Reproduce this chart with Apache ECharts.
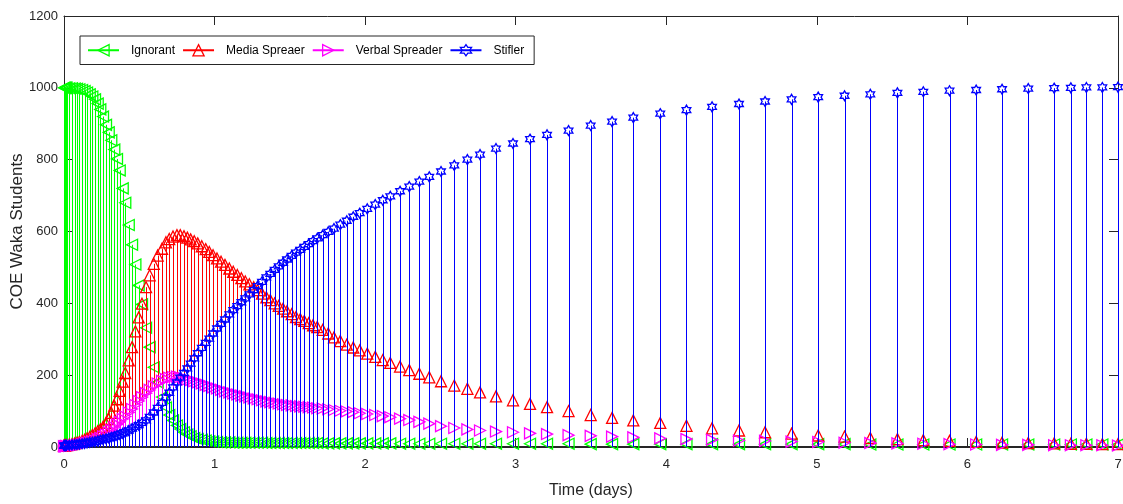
<!DOCTYPE html>
<html>
<head>
<meta charset="utf-8">
<title>COE Waka Students rumour model</title>
<script src="https://cdn.jsdelivr.net/npm/echarts@6/dist/echarts.min.js"></script>
<style>
  html, body { margin: 0; padding: 0; background: #fff; }
  #chart { width: 1123px; height: 504px; }
</style>
</head>
<body>
<div id="chart"></div>
<script>
// time steps of the solver output (days)
const timeDays = [0, 0.004, 0.008, 0.013, 0.017, 0.035, 0.053, 0.071, 0.086, 0.102,
  0.120, 0.137, 0.153, 0.171, 0.188, 0.206, 0.224, 0.241, 0.259, 0.279,
  0.297, 0.314, 0.334, 0.352, 0.370, 0.390, 0.407, 0.430, 0.452, 0.474,
  0.496, 0.518, 0.545, 0.569, 0.596, 0.622, 0.651, 0.677, 0.699, 0.724,
  0.750, 0.772, 0.797, 0.819, 0.841, 0.865, 0.888, 0.915, 0.941, 0.965,
  0.990, 1.016, 1.043, 1.069, 1.098, 1.124, 1.151, 1.178, 1.204, 1.231,
  1.260, 1.286, 1.315, 1.344, 1.370, 1.399, 1.426, 1.455, 1.481, 1.512,
  1.541, 1.569, 1.596, 1.625, 1.654, 1.682, 1.718, 1.755, 1.793, 1.835,
  1.878, 1.921, 1.964, 2.014, 2.067, 2.117, 2.167, 2.232, 2.293, 2.360,
  2.426, 2.504, 2.592, 2.679, 2.763, 2.869, 2.982, 3.095, 3.208, 3.351,
  3.498, 3.640, 3.781, 3.960, 4.134, 4.304, 4.483, 4.656, 4.832, 5.009,
  5.184, 5.355, 5.535, 5.707, 5.881, 6.058, 6.230, 6.404, 6.576, 6.687,
  6.790, 6.896, 7.000];

const ignorant = [1000, 1000, 1000, 1000, 1000, 999, 999, 998, 997, 996,
  994, 991, 987, 982, 976, 968, 956, 940, 920, 897,
  876, 854, 828, 802, 770, 720, 680, 618, 563, 508,
  450, 397, 332, 278, 222, 180, 139, 110, 89, 74,
  60, 50, 41, 35, 30, 25, 22, 20, 18, 16,
  15, 14, 13, 13, 13, 12, 12, 12, 12, 12,
  12, 12, 12, 11, 11, 11, 11, 11, 11, 11,
  11, 11, 11, 11, 11, 11, 10, 10, 10, 10,
  10, 10, 10, 10, 10, 10, 10, 9, 9, 9,
  9, 9, 9, 9, 9, 9, 9, 9, 9, 9,
  8, 8, 8, 8, 8, 8, 8, 8, 8, 8,
  8, 7, 7, 7, 7, 7, 7, 7, 7, 7,
  7, 7, 7];

const mediaSpreader = [4, 4, 5, 5, 5, 7, 8, 10, 12, 14,
  17, 20, 24, 28, 33, 38, 44, 49, 56, 67,
  78, 95, 115, 133, 156, 182, 206, 241, 278, 322,
  361, 399, 445, 478, 510, 533, 552, 570, 579, 586,
  590, 590, 587, 583, 578, 573, 567, 559, 551, 543,
  534, 525, 516, 507, 497, 488, 479, 470, 461, 453,
  445, 437, 427, 417, 409, 400, 393, 385, 378, 370,
  362, 356, 351, 345, 339, 334, 326, 316, 305, 295,
  285, 277, 269, 260, 251, 242, 234, 224, 214, 204,
  194, 183, 171, 162, 152, 141, 130, 120, 111, 100,
  89, 81, 74, 67, 59, 52, 46, 41, 37, 32,
  29, 25, 22, 19, 17, 14, 12, 11, 10, 9,
  9, 8, 8];

const verbalSpreader = [2, 2, 2, 2, 3, 3, 4, 4, 5, 6,
  8, 10, 12, 14, 16, 18, 22, 25, 30, 35,
  41, 47, 55, 63, 70, 78, 85, 96, 106, 117,
  128, 139, 150, 159, 169, 177, 184, 189, 193, 195,
  196, 194, 191, 188, 186, 183, 180, 177, 173, 170,
  166, 163, 159, 155, 152, 149, 146, 143, 141, 138,
  135, 133, 130, 127, 125, 123, 121, 119, 117, 116,
  114, 113, 112, 111, 110, 108, 107, 105, 103, 101,
  99, 97, 94, 92, 89, 86, 83, 79, 75, 70,
  65, 58, 53, 49, 46, 43, 41, 38, 36, 33,
  31, 29, 27, 24, 22, 20, 18, 17, 15, 14,
  12, 11, 10, 9, 8, 7, 6, 6, 5, 5,
  5, 5, 4];

const stifler = [4, 4, 4, 4, 5, 5, 6, 7, 7, 8,
  9, 10, 11, 13, 14, 15, 17, 19, 21, 23,
  25, 27, 29, 32, 35, 38, 41, 46, 51, 56,
  61, 67, 74, 84, 96, 109, 123, 138, 151, 166,
  180, 193, 206, 219, 232, 247, 261, 276, 290, 302,
  316, 330, 343, 355, 369, 381, 392, 403, 414, 425,
  437, 448, 460, 472, 482, 493, 503, 513, 522, 532,
  541, 549, 557, 565, 573, 581, 590, 599, 608, 619,
  630, 641, 651, 663, 675, 687, 698, 712, 725, 739,
  752, 767, 784, 800, 814, 831, 845, 857, 869, 881,
  895, 906, 917, 928, 938, 947, 955, 962, 968, 974,
  978, 982, 986, 989, 992, 994, 996, 998, 999, 1000,
  1001, 1001, 1002];

const xTicks = [0, 1, 2, 3, 4, 5, 6, 7];
const yTicks = [0, 200, 400, 600, 800, 1000, 1200];

// six-pointed star like matlab's 'h' marker
const hexagram = 'path://M0,-10L2.887,-5L8.66,-5L5.77,0L8.66,5L2.887,5L0,10L-2.887,5L-8.66,5L-5.77,0L-8.66,-5L-2.887,-5Z';

const seriesDefs = [
  { name: 'Ignorant', values: ignorant, color: '#00ff00', symbol: 'triangle', rotate: 90, size: 11 },
  { name: 'Media Spreaer', values: mediaSpreader, color: '#ff0000', symbol: 'triangle', rotate: 0, size: 11 },
  { name: 'Verbal Spreader', values: verbalSpreader, color: '#ff00ff', symbol: 'triangle', rotate: -90, size: 11 },
  { name: 'Stifler', values: stifler, color: '#0000ff', symbol: hexagram, rotate: 0, size: 10 },
];

const axisColor = '#262626';
const font = '"Liberation Sans", Arial, sans-serif';

function pairs(vals) {
  return timeDays.map((t, i) => [t, vals[i]]);
}

const series = [];
seriesDefs.forEach((d, i) => {
  // stems: vertical line from the baseline up to the value
  series.push({
    name: d.name + ' stem',
    type: 'custom',
    z: 2 + i * 2,
    silent: true,
    animation: false,
    encode: { x: 0, y: 1 },
    data: pairs(d.values),
    renderItem: (params, api) => {
      const top = api.coord([api.value(0), api.value(1)]);
      const base = api.coord([api.value(0), 0]);
      const x = Math.round(top[0]) + 0.5;
      return {
        type: 'line',
        shape: { x1: x, y1: base[1], x2: x, y2: top[1] },
        style: { stroke: d.color, lineWidth: 1 }
      };
    }
  });
  // hollow markers on top of the stems
  series.push({
    name: d.name,
    type: 'line',
    z: 3 + i * 2,
    data: pairs(d.values),
    symbol: d.symbol,
    symbolSize: d.size,
    symbolRotate: d.rotate,
    symbolKeepAspect: true,
    showSymbol: true,
    showAllSymbol: true,
    clip: false,
    silent: true,
    animation: false,
    lineStyle: { opacity: 0 },
    itemStyle: { color: 'transparent', borderColor: d.color, borderWidth: 1.3 },
    emphasis: { disabled: true }
  });
});

const valueAxis = (extra) => Object.assign({
  type: 'value',
  axisLine: { show: true, onZero: false, lineStyle: { color: axisColor, width: 1 } },
  axisTick: { show: true, inside: true, length: 9, lineStyle: { color: axisColor } },
  splitLine: { show: false },
  axisLabel: { show: false }
}, extra);

const option = {
  backgroundColor: '#fff',
  animation: false,
  textStyle: { fontFamily: font },
  grid: { left: 64, right: 5, top: 16, bottom: 57, containLabel: false, outerBoundsMode: 'none' },
  legend: {
    left: 80,
    top: 36,
    orient: 'horizontal',
    itemWidth: 31,
    itemHeight: 14,
    itemGap: 7,
    padding: [8, 10, 8, 7],
    borderColor: axisColor,
    borderWidth: 1,
    backgroundColor: '#fff',
    selectedMode: false,
    textStyle: { fontSize: 12, color: '#000', fontFamily: font, padding: [0, 0, 0, 7] },
    data: seriesDefs.map(d => ({
      name: d.name,
      lineStyle: { color: d.color, width: 2, opacity: 1 },
      itemStyle: { color: 'transparent', borderColor: d.color, borderWidth: 1.3 }
    }))
  },
  xAxis: [
    valueAxis({
      position: 'bottom',
      min: xTicks[0], max: xTicks[xTicks.length - 1], interval: 1,
      axisLine: { show: true, onZero: false, lineStyle: { color: axisColor, width: 2 } },
      axisLabel: { show: true, color: axisColor, fontSize: 13, margin: 11 },
      name: 'Time (days)',
      nameLocation: 'middle',
      nameGap: 36,
      nameMoveOverlap: false,
      nameTextStyle: { fontSize: 16, color: axisColor }
    }),
    valueAxis({ position: 'top', min: xTicks[0], max: xTicks[xTicks.length - 1], interval: 1 })
  ],
  yAxis: [
    valueAxis({
      position: 'left',
      min: yTicks[0], max: yTicks[yTicks.length - 1], interval: 200,
      axisLabel: { show: true, color: axisColor, fontSize: 13, margin: 6, formatter: v => String(v) },
      name: 'COE Waka Students',
      nameLocation: 'middle',
      nameGap: 38,
      nameRotate: 90,
      nameMoveOverlap: false,
      nameTextStyle: { fontSize: 17, color: axisColor }
    }),
    valueAxis({ position: 'right', min: yTicks[0], max: yTicks[yTicks.length - 1], interval: 200 })
  ],
  series: series
};

const chart = echarts.init(document.getElementById('chart'));
chart.setOption(option);
window.addEventListener('resize', () => chart && chart.resize());
</script>
</body>
</html>
